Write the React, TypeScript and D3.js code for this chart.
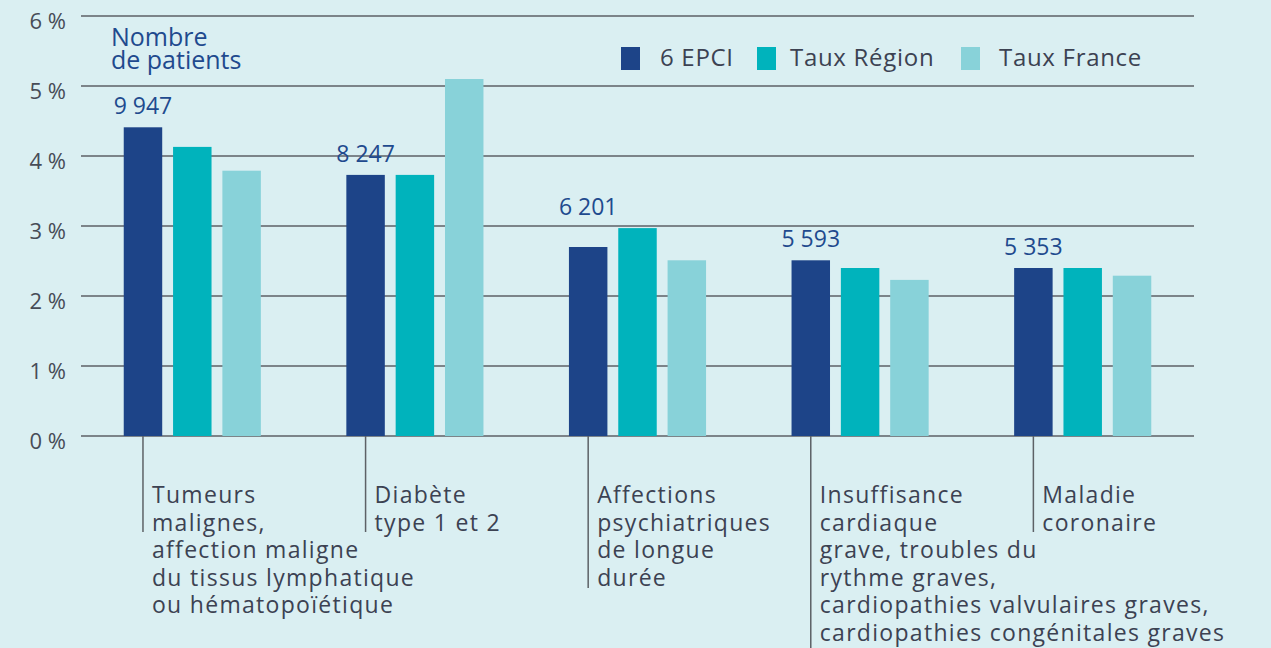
import * as d3 from "d3";
import React, { useEffect, useRef } from "react";

const categories = [
  "Tumeurs malignes",
  "Diabète",
  "Affections psychiatriques",
  "Insuffisance cardiaque",
  "Maladie coronaire",
];

const categoryLines = [
  ["Tumeurs", "malignes,", "affection maligne", "du tissus lymphatique", "ou hématopoïétique"],
  ["Diabète", "type 1 et 2"],
  ["Affections", "psychiatriques", "de longue", "durée"],
  [
    "Insuffisance",
    "cardiaque",
    "grave, troubles du",
    "rythme graves,",
    "cardiopathies valvulaires graves,",
    "cardiopathies congénitales graves",
  ],
  ["Maladie", "coronaire"],
];

const series = ["6 EPCI", "Taux Région", "Taux France"];
const epci = [4.41, 3.73, 2.7, 2.51, 2.4];
const region = [4.13, 3.73, 2.97, 2.4, 2.4];
const france = [3.79, 5.1, 2.51, 2.23, 2.29];
const patients = [9947, 8247, 6201, 5593, 5353];
const yTicks = [0, 1, 2, 3, 4, 5, 6];

const colors = ["#1d4488", "#00b3bc", "#88d2d9"];
const bg = "#daeff2";
const font = "'Open Sans', sans-serif";

const App = () => {
  const ref = useRef(null);

  useEffect(() => {
    const width = 1271;
    const height = 648;
    const left = 81;
    const right = 1194;

    const svg = d3.select(ref.current).attr("width", width).attr("height", height);
    svg.selectAll("*").remove();

    svg.append("rect").attr("width", width).attr("height", height).attr("fill", bg);

    const y = d3.scaleLinear().domain([0, 6]).range([436, 16]);
    const x = d3
      .scaleBand()
      .domain(categories)
      .range([left, right])
      .paddingInner(0.384)
      .paddingOuter(0.192);
    const xs = d3.scaleBand().domain(series).range([0, x.bandwidth()]).paddingInner(0.22);

    const fr = d3.formatLocale({ decimal: ",", thousands: " ", grouping: [3], currency: ["", " €"] });
    const fmt = fr.format(",d");

    // grid + y labels
    const grid = svg.append("g");
    grid
      .selectAll("line")
      .data(yTicks)
      .join("line")
      .attr("x1", left)
      .attr("x2", right)
      .attr("y1", (d) => y(d))
      .attr("y2", (d) => y(d))
      .attr("stroke", "#5d6166")
      .attr("stroke-width", 1.5);
    grid
      .selectAll("text")
      .data(yTicks)
      .join("text")
      .attr("x", 66)
      .attr("y", (d) => y(d) + 13)
      .attr("text-anchor", "end")
      .attr("font-family", font)
      .attr("font-size", 22)
      .attr("fill", "#474c57")
      .text((d) => `${d} %`);

    const values = [epci, region, france];

    const groups = svg
      .append("g")
      .selectAll("g")
      .data(categories)
      .join("g")
      .attr("transform", (d) => `translate(${x(d)},0)`);

    groups
      .selectAll("rect")
      .data((_, i) => series.map((s, k) => ({ s, k, v: values[k][i] })))
      .join("rect")
      .attr("x", (d) => xs(d.s))
      .attr("width", xs.bandwidth())
      .attr("y", (d) => y(d.v))
      .attr("height", (d) => y(0) - y(d.v))
      .attr("fill", (d) => colors[d.k]);

    // patient counts
    groups
      .append("text")
      .attr("x", xs(series[0]) + xs.bandwidth() / 2)
      .attr("y", (_, i) => y(Math.max(epci[i], region[i])) - 13)
      .attr("text-anchor", "middle")
      .attr("font-family", font)
      .attr("font-size", 23)
      .attr("fill", "#1f4a8e")
      .text((_, i) => fmt(patients[i]));

    // category ticks + labels
    const tickX = xs(series[0]) + xs.bandwidth() / 2;
    const tickEnds = [2, 2, 4, 7, 2];
    groups
      .append("line")
      .attr("x1", tickX)
      .attr("x2", tickX)
      .attr("y1", y(0))
      .attr("y2", (_, i) => Math.min(height, 476 + tickEnds[i] * 28))
      .attr("stroke", "#5d6166")
      .attr("stroke-width", 1.5);

    groups
      .append("text")
      .attr("font-family", font)
      .attr("font-size", 23)
      .attr("letter-spacing", 1.3)
      .attr("fill", "#3c4252")
      .selectAll("tspan")
      .data((_, i) => categoryLines[i])
      .join("tspan")
      .attr("x", tickX + 9)
      .attr("y", (_, j) => 503 + j * 27.6)
      .text((d) => d);

    // nombre de patients
    const np = svg
      .append("text")
      .attr("font-family", font)
      .attr("font-size", 25)
      .attr("fill", "#1f4a8e");
    np.append("tspan").attr("x", 111).attr("y", 46).text("Nombre");
    np.append("tspan").attr("x", 111).attr("y", 69).text("de patients");

    // legend
    const legendX = [621, 757, 961];
    const legend = svg
      .append("g")
      .selectAll("g")
      .data(series)
      .join("g")
      .attr("transform", (_, i) => `translate(${legendX[i]},47)`);
    legend
      .append("rect")
      .attr("width", 19)
      .attr("height", 23)
      .attr("fill", (_, i) => colors[i]);
    legend
      .append("text")
      .attr("x", (_, i) => [39, 33, 38][i])
      .attr("y", 19)
      .attr("font-family", font)
      .attr("font-size", 24)
      .attr("letter-spacing", 0.7)
      .attr("fill", "#3c4252")
      .text((d) => d);
  }, []);

  return (
    <div style={{ position: "fixed", left: 0, top: 0 }}>
      <svg ref={ref} style={{ display: "block" }} />
    </div>
  );
};

export default App;
